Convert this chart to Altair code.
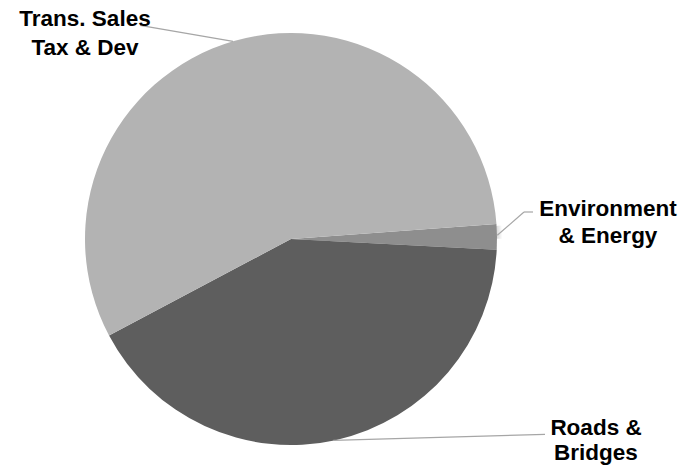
import altair as alt
import pandas as pd
import math

categories = ["Environment & Energy", "Roads & Bridges", "Trans. Sales Tax & Dev"]
shares = [2.0, 41.4, 56.6]
colors = ["#8e8e8e", "#5e5e5e", "#b3b3b3"]
order_idx = [0, 1, 2]

label_trans = "Trans. Sales\nTax & Dev"
label_env = "Environment\n& Energy"
label_roads = "Roads &\nBridges"

df = pd.DataFrame({"category": categories, "share": shares, "idx": order_idx})

start = math.radians(85.8)
CX, CY, R = 283, 229, 206

pie = alt.Chart(df).mark_arc(outerRadius=R, stroke=None).encode(
    theta=alt.Theta("share:Q", stack=True, scale=alt.Scale(range=[start, start + 2 * math.pi])),
    order=alt.Order("idx:Q"),
    color=alt.Color("category:N", scale=alt.Scale(domain=categories, range=colors), legend=None),
    x=alt.value(CX),
    y=alt.value(CY),
)

shadow_layers = []
for k in range(1, 7):
    shadow_layers.append(
        alt.Chart(pd.DataFrame({"v": [1]})).mark_arc(
            outerRadius=R + k, color="black", opacity=0.028
        ).encode(theta=alt.Theta("v:Q"), x=alt.value(CX - 1), y=alt.value(CY + 2))
    )

line_color = "#a6a6a6"
def rule(x1, y1, x2, y2):
    return alt.Chart(pd.DataFrame({"v": [1]})).mark_rule(color=line_color, strokeWidth=1.2).encode(
        x=alt.value(x1), y=alt.value(y1), x2=alt.value(x2), y2=alt.value(y2)
    )

leaders = [
    rule(132, 15.3, 225, 31.3),
    rule(489.3, 225.3, 516, 202),
    rule(516, 202, 525, 202),
    rule(325.3, 430.3, 537, 424.3),
]

def label(text, x, y, lh):
    return alt.Chart(pd.DataFrame({"t": [text]})).mark_text(
        font="Liberation Sans", fontWeight="bold", fontSize=22.5, color="black",
        align="center", baseline="alphabetic", lineBreak="\n", lineHeight=lh
    ).encode(text="t:N", x=alt.value(x), y=alt.value(y))

labels = [
    label(label_trans, 77, 16, 29),
    label(label_env, 600, 205.5, 27),
    label(label_roads, 588, 424.5, 25.5),
]

chart = alt.layer(*shadow_layers, pie, *leaders, *labels).properties(
    width=684, height=452, padding=0
).configure_view(stroke=None)

chart.save("out.html", embed_options={"renderer": "svg", "actions": False})
